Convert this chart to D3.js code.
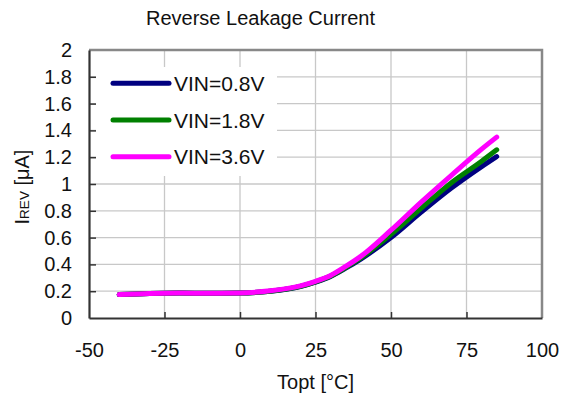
<!DOCTYPE html>
<html>
<head>
<meta charset="utf-8">
<script src="https://cdn.jsdelivr.net/npm/d3@7"></script>
<style>
  body { margin: 0; background: #fff; }
  svg { display: block; font-family: "Liberation Sans", Arial, sans-serif; }
</style>
</head>
<body>
<div id="chart"></div>
<script>
// temperatures [°C] and reverse leakage current [µA] per input voltage
var temps  = [-40, -30, -20, -10, 0, 10, 20, 25, 30, 35, 40, 50, 60, 70, 80, 85];
var vin08  = [0.175, 0.183, 0.186, 0.185, 0.186, 0.2, 0.235, 0.268, 0.31, 0.372, 0.44, 0.6, 0.79, 0.97, 1.13, 1.205];
var vin18  = [0.175, 0.183, 0.186, 0.185, 0.186, 0.2, 0.236, 0.27, 0.313, 0.377, 0.448, 0.625, 0.82, 1.01, 1.17, 1.255];
var vin36  = [0.175, 0.183, 0.186, 0.185, 0.187, 0.203, 0.24, 0.274, 0.318, 0.385, 0.46, 0.655, 0.865, 1.065, 1.26, 1.35];
var seriesNames = ["VIN=0.8V", "VIN=1.8V", "VIN=3.6V"];
var seriesColors = ["#000080", "#008000", "#ff00ff"];
var xTicks = [-50, -25, 0, 25, 50, 75, 100];
var yTicks = [0, 0.2, 0.4, 0.6, 0.8, 1, 1.2, 1.4, 1.6, 1.8, 2];

var width = 562, height = 398;
var margin = { left: 89, right: 20, top: 50, bottom: 80 };

var svg = d3.select("#chart").append("svg")
    .attr("width", width)
    .attr("height", height);

var x = d3.scaleLinear().domain([-50, 100]).range([margin.left, width - margin.right]);
var y = d3.scaleLinear().domain([0, 2]).range([height - margin.bottom, margin.top]);

// grid
svg.append("g").selectAll("line")
    .data(yTicks.slice(1, -1))
    .enter().append("line")
    .attr("x1", x(-50)).attr("x2", x(100))
    .attr("y1", function (d) { return y(d); })
    .attr("y2", function (d) { return y(d); })
    .attr("stroke", "#c8c8c8").attr("stroke-width", 1.3);

svg.append("g").selectAll("line")
    .data(xTicks.slice(1, -1))
    .enter().append("line")
    .attr("y1", y(0)).attr("y2", y(2))
    .attr("x1", function (d) { return x(d); })
    .attr("x2", function (d) { return x(d); })
    .attr("stroke", "#c8c8c8").attr("stroke-width", 1.3);

// frame: top and right gray
svg.append("path")
    .attr("d", "M" + x(-50) + "," + y(2) + "H" + x(100) + "V" + y(0))
    .attr("fill", "none").attr("stroke", "#888").attr("stroke-width", 2.5);

// axes (plain hyphen for negatives, like the original)
var plain = function (d) { return String(d); };
var xAxis = svg.append("g")
    .attr("transform", "translate(0," + y(0) + ")")
    .call(d3.axisBottom(x).tickValues(xTicks).tickSizeInner(-6).tickSizeOuter(0).tickPadding(16)
        .tickFormat(plain));
var yAxis = svg.append("g")
    .attr("transform", "translate(" + x(-50) + ",0)")
    .call(d3.axisLeft(y).tickValues(yTicks).tickSizeInner(-7).tickSizeOuter(0).tickPadding(17)
        .tickFormat(plain));

[xAxis, yAxis].forEach(function (a) {
    a.select(".domain").attr("stroke", "#333").attr("stroke-width", 2.2);
    a.selectAll(".tick line").attr("stroke", "#333").attr("stroke-width", 1.5);
    a.selectAll(".tick text")
        .attr("fill", "#111")
        .style("font-size", "20px")
        .style("font-family", "'Liberation Sans', Arial, sans-serif");
});
xAxis.selectAll(".tick text").attr("dy", "0.71em").attr("transform", "translate(0,9)");
xAxis.selectAll(".tick").filter(function (d) { return d === -50 || d === 100; }).select("line").remove();
yAxis.selectAll(".tick").filter(function (d) { return d === 0 || d === 2; }).select("line").remove();

// curves
var line = d3.line()
    .x(function (d) { return x(d[0]); })
    .y(function (d) { return y(d[1]); })
    .curve(d3.curveMonotoneX);

[vin08, vin18, vin36].forEach(function (vals, i) {
    svg.append("path")
        .datum(temps.map(function (t, j) { return [t, vals[j]]; }))
        .attr("d", line)
        .attr("fill", "none")
        .attr("stroke", seriesColors[i])
        .attr("stroke-width", 5)
        .attr("stroke-linecap", "round");
});

// legend
var legend = svg.append("g");
legend.append("rect")
    .attr("x", 96).attr("y", 67).attr("width", 181).attr("height", 109)
    .attr("fill", "#fff");
seriesNames.forEach(function (name, i) {
    var ly = 83.3 + i * 36.7;
    legend.append("line")
        .attr("x1", 113).attr("x2", 169)
        .attr("y1", ly).attr("y2", ly)
        .attr("stroke", seriesColors[i])
        .attr("stroke-width", 5)
        .attr("stroke-linecap", "round");
    legend.append("text")
        .attr("x", 174).attr("y", ly + 7.5)
        .attr("fill", "#111")
        .style("font-size", "21px")
        .text(name);
});

// title
svg.append("text")
    .attr("x", 260.5).attr("y", 25)
    .attr("text-anchor", "middle")
    .attr("fill", "#111")
    .style("font-size", "20px")
    .text("Reverse Leakage Current");

// x label
svg.append("text")
    .attr("x", (x(-50) + x(100)) / 2).attr("y", 389)
    .attr("text-anchor", "middle")
    .attr("fill", "#111")
    .style("font-size", "20px")
    .text("Topt [°C]");

// y label
var yl = svg.append("text")
    .attr("transform", "translate(29," + 187 + ") rotate(-90)")
    .attr("text-anchor", "middle")
    .attr("fill", "#111")
    .style("font-size", "20px");
yl.append("tspan").text("I");
yl.append("tspan").style("font-size", "13.5px").text("REV");
yl.append("tspan").text(" [μA]");
</script>
</body>
</html>
